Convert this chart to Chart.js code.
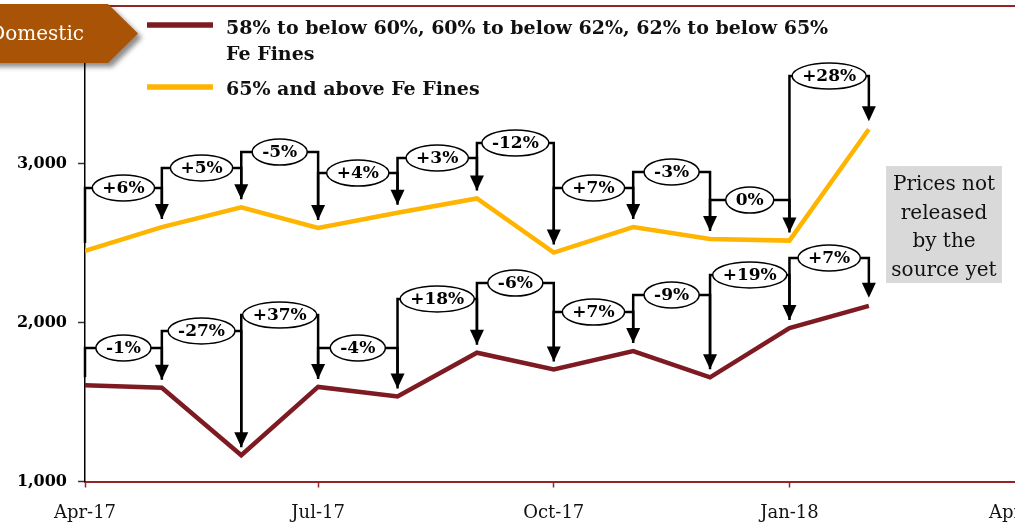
<!DOCTYPE html>
<html><head><meta charset="utf-8">
<script src="https://cdn.jsdelivr.net/npm/chart.js@4/dist/chart.umd.min.js"></script>
<style>
html,body{margin:0;padding:0;overflow:hidden;background:#fff;width:1015px;height:524px}
#wrap{position:absolute;left:0;top:0;width:1050px;height:524px}
</style>
</head><body><div id="wrap"><canvas id="c" width="1050" height="524"></canvas></div>
<script>
// ---- data ----
const months = ['2017-04-01','2017-05-01','2017-06-01','2017-07-01','2017-08-01','2017-09-01','2017-10-01','2017-11-01','2017-12-01','2018-01-01','2018-02-01'];
const lowerGradePrices = [1605,1590,1165,1595,1535,1810,1705,1820,1655,1965,2105];
const highGradePrices  = [2450,2600,2725,2595,2690,2780,2440,2600,2525,2515,3215];
const lowerGradeChanges = ['-1%','-27%','+37%','-4%','+18%','-6%','+7%','-9%','+19%','+7%'];
const highGradeChanges  = ['+6%','+5%','-5%','+4%','+3%','-12%','+7%','-3%','0%','+28%'];
const lowerGradeBracketLevels = [1840,1947,2047,1840,2148,2248,2066,2173,2299,2406];
const highGradeBracketLevels  = [2846,2972,3072,2940,3035,3129,2846,2947,2770,3550];
const xTickDates  = ['2017-04-01','2017-07-01','2017-10-01','2018-01-01','2018-04-01'];
const xTickLabels = ['Apr-17','Jul-17','Oct-17','Jan-18','Apr-18'];
const yTicks = [1000,2000,3000];
const yMin = 1000, yMax = 4000;
const lowerGradeLegend = ['58% to below 60%, 60% to below 62%, 62% to below 65%','Fe Fines'];
const highGradeLegend = ['65% and above Fe Fines'];
const bannerText = 'Domestic';
const noteLines = ['Prices not','released','by the','source yet'];

// ---- helpers ----
const DAY = 86400000;
const origin = Date.parse(xTickDates[0]);
const dayIndex = d => Math.round((Date.parse(d) - origin) / DAY);
const xMax = dayIndex(xTickDates[xTickDates.length-1]);
const RED = '#7E1A22', YELLOW = '#FFB400', AXIS_RED = '#922626';
const SERIF = '"DejaVu Serif", serif';

function bracketSet(ctx, xs, ys, prices, levels) {
  const GAP = 8, HEAD = 15, HW = 7;
  ctx.strokeStyle = '#000'; ctx.fillStyle = '#000'; ctx.lineWidth = 2.5; ctx.lineJoin = 'miter';
  for (let i = 0; i < levels.length; i++) {
    const x0 = xs.getPixelForValue(dayIndex(months[i]));
    const x1 = xs.getPixelForValue(dayIndex(months[i+1]));
    const y0 = ys.getPixelForValue(prices[i]);
    const y1 = ys.getPixelForValue(prices[i+1]);
    const yl = ys.getPixelForValue(levels[i]);
    const tip = y1 - GAP;
    ctx.beginPath();
    ctx.moveTo(x0, y0 - GAP); ctx.lineTo(x0, yl); ctx.lineTo(x1, yl); ctx.lineTo(x1, tip - HEAD + 2);
    ctx.stroke();
    ctx.beginPath();
    ctx.moveTo(x1 - HW, tip - HEAD); ctx.lineTo(x1 + HW, tip - HEAD); ctx.lineTo(x1, tip); ctx.closePath();
    ctx.fill();
  }
}
function ovalSet(ctx, xs, ys, levels, labels) {
  ctx.font = 'bold 17px ' + SERIF;
  ctx.textAlign = 'center'; ctx.textBaseline = 'middle';
  for (let i = 0; i < levels.length; i++) {
    const x0 = xs.getPixelForValue(dayIndex(months[i]));
    const x1 = xs.getPixelForValue(dayIndex(months[i+1]));
    const yl = ys.getPixelForValue(levels[i]);
    const cx = (x0 + x1) / 2;
    const w = ctx.measureText(labels[i]).width + 20;
    ctx.beginPath();
    ctx.ellipse(cx, yl, w / 2, 13, 0, 0, Math.PI * 2);
    ctx.fillStyle = '#fff'; ctx.fill();
    ctx.lineWidth = 1.5; ctx.strokeStyle = '#000'; ctx.stroke();
    ctx.fillStyle = '#000';
    ctx.fillText(labels[i], cx, yl + 1);
  }
}

const deco = {
  id: 'deco',
  beforeDraw(chart) {
    const ctx = chart.ctx, ys = chart.scales.y;
    ctx.save();
    ctx.strokeStyle = AXIS_RED; ctx.lineWidth = 2;
    const yt = Math.round(ys.getPixelForValue(yMax)) + 1;
    ctx.beginPath(); ctx.moveTo(0, yt); ctx.lineTo(chart.width, yt); ctx.stroke();
    ctx.restore();
  },
  afterDatasetsDraw(chart) {
    const ctx = chart.ctx, xs = chart.scales.x, ys = chart.scales.y;
    ctx.save();
    bracketSet(ctx, xs, ys, highGradePrices, highGradeBracketLevels);
    bracketSet(ctx, xs, ys, lowerGradePrices, lowerGradeBracketLevels);
    ovalSet(ctx, xs, ys, highGradeBracketLevels, highGradeChanges);
    ovalSet(ctx, xs, ys, lowerGradeBracketLevels, lowerGradeChanges);
    ctx.restore();
  },
  afterDraw(chart) {
    const ctx = chart.ctx;
    ctx.save();
    // banner
    ctx.shadowColor = 'rgba(0,0,0,0.45)'; ctx.shadowBlur = 5; ctx.shadowOffsetX = 4; ctx.shadowOffsetY = 4;
    ctx.fillStyle = '#A85306';
    ctx.beginPath();
    ctx.moveTo(-10, 4); ctx.lineTo(108, 4); ctx.lineTo(138, 33.5); ctx.lineTo(108, 63); ctx.lineTo(-10, 63); ctx.closePath();
    ctx.fill();
    ctx.shadowColor = 'transparent'; ctx.shadowBlur = 0; ctx.shadowOffsetX = 0; ctx.shadowOffsetY = 0;
    ctx.fillStyle = '#fff'; ctx.font = '20px ' + SERIF; ctx.textAlign = 'right'; ctx.textBaseline = 'middle';
    ctx.fillText(bannerText, 84, 35);
    // legend
    ctx.lineCap = 'butt';
    ctx.strokeStyle = RED; ctx.lineWidth = 5.5;
    ctx.beginPath(); ctx.moveTo(147, 25); ctx.lineTo(213, 25); ctx.stroke();
    ctx.strokeStyle = YELLOW;
    ctx.beginPath(); ctx.moveTo(147, 87); ctx.lineTo(213, 87); ctx.stroke();
    ctx.fillStyle = '#111'; ctx.font = 'bold 19px ' + SERIF; ctx.textAlign = 'left'; ctx.textBaseline = 'alphabetic';
    lowerGradeLegend.forEach((t, i) => ctx.fillText(t, 226, 34 + i * 26));
    highGradeLegend.forEach((t, i) => ctx.fillText(t, 226, 95 + i * 26));
    // note box
    ctx.fillStyle = '#D9D9D9';
    ctx.fillRect(886, 166, 116, 117);
    ctx.fillStyle = '#111'; ctx.font = '20px ' + SERIF; ctx.textAlign = 'center';
    noteLines.forEach((t, i) => ctx.fillText(t, 944, 190 + i * 28.7));
    ctx.restore();
  }
};

const toPoints = arr => months.map((m, i) => ({ x: dayIndex(m), y: arr[i] }));

new Chart(document.getElementById('c'), {
  type: 'line',
  data: {
    datasets: [
      { label: lowerGradeLegend.join(' '), data: toPoints(lowerGradePrices), borderColor: RED, backgroundColor: RED,
        borderWidth: 4.5, pointRadius: 0, tension: 0, borderJoinStyle: 'miter', fill: false },
      { label: highGradeLegend.join(' '), data: toPoints(highGradePrices), borderColor: YELLOW, backgroundColor: YELLOW,
        borderWidth: 4.5, pointRadius: 0, tension: 0, borderJoinStyle: 'miter', fill: false }
    ]
  },
  options: {
    responsive: false, animation: false, devicePixelRatio: 1,
    layout: { padding: { left: 0, right: 30, top: 4.5, bottom: 0 } },
    plugins: { legend: { display: false }, tooltip: { enabled: false } },
    scales: {
      x: {
        type: 'linear', min: 0, max: xMax,
        afterBuildTicks: s => { s.ticks = xTickDates.map(d => ({ value: dayIndex(d) })); },
        afterFit: s => { s.paddingLeft = 0; s.paddingRight = 0; s.height = 42.5; },
        border: { display: true, color: AXIS_RED, width: 2 },
        grid: { display: true, drawOnChartArea: false, drawTicks: true, tickLength: 6, tickColor: AXIS_RED, tickWidth: 1.5 },
        ticks: { autoSkip: false, maxRotation: 0, font: { family: SERIF, size: 18 }, color: '#111', padding: 15,
          callback: (v, i) => xTickLabels[i] }
      },
      y: {
        type: 'linear', min: yMin, max: yMax,
        afterBuildTicks: s => { s.ticks = yTicks.map(v => ({ value: v })); },
        afterFit: s => { s.width = 85; s.paddingTop = 0; s.paddingBottom = 0; },
        border: { display: true, color: '#000', width: 1.5 },
        grid: { display: true, drawOnChartArea: false, drawTicks: true, tickLength: 7, tickColor: '#333', tickWidth: 1.5 },
        ticks: { font: { family: SERIF, size: 16, weight: 'bold' }, color: '#000', padding: 11,
          callback: v => v.toLocaleString('en-US') }
      }
    }
  },
  plugins: [deco]
});
</script>
</body></html>
